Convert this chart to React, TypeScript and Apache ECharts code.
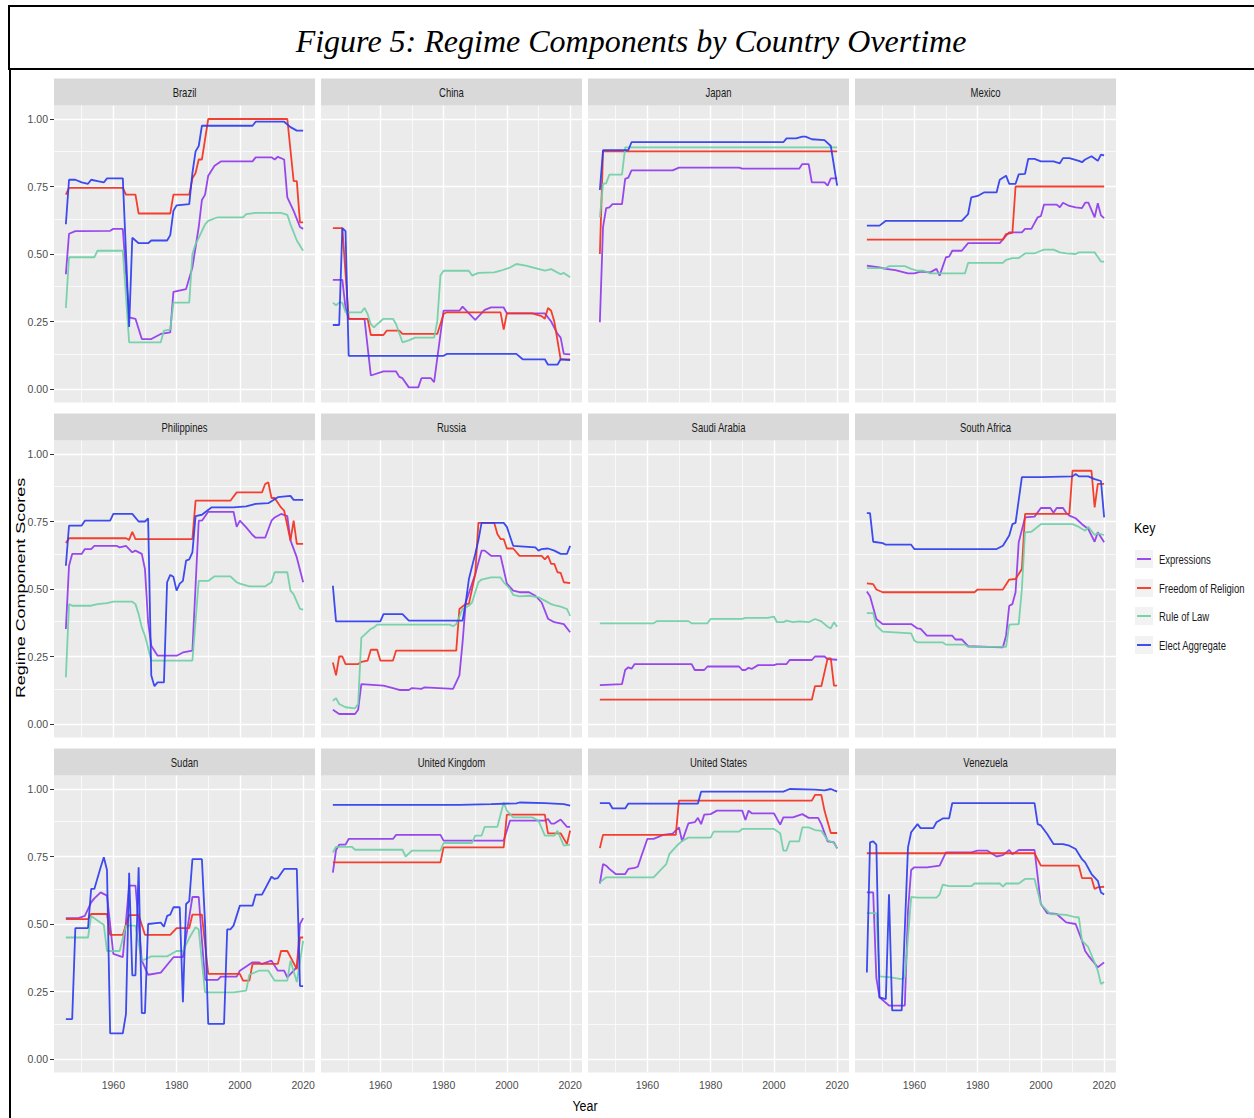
import React, { useEffect, useRef } from "react";
import * as echarts from "echarts";

const countries = ["Brazil", "China", "Japan", "Mexico", "Philippines", "Russia", "Saudi Arabia", "South Africa", "Sudan", "United Kingdom", "United States", "Venezuela"];
const seriesNames = ["Expressions", "Freedom of Religion", "Rule of Law", "Elect Aggregate"];
const seriesColors = ["#9038EC", "#F4301E", "#6FCFA5", "#2C3CEE"];
const xTicks = [1960, 1980, 2000, 2020];
const xMinor = [1950, 1970, 1990, 2010];
const yTicks = [0, 0.25, 0.5, 0.75, 1];
const yMinor = [0.125, 0.375, 0.625, 0.875];

// Brazil
const brazilExpressions = [[1945,0.425],[1946,0.575],[1948,0.585],[1959,0.586],[1960,0.593],[1963,0.593],[1965,0.265],[1967,0.26],[1969,0.185],[1972,0.185],[1975,0.204],[1978,0.21],[1979,0.36],[1983,0.37],[1985,0.45],[1987,0.6],[1988,0.7],[1989,0.72],[1990,0.79],[1992,0.827],[1994,0.843],[2004,0.843],[2005,0.858],[2010,0.858],[2011,0.85],[2012,0.86],[2014,0.85],[2015,0.71],[2017,0.66],[2019,0.6],[2020,0.593]];
const brazilReligion = [[1945,0.72],[1946,0.745],[1963,0.745],[1964,0.72],[1967,0.72],[1968,0.65],[1978,0.65],[1979,0.72],[1984,0.72],[1985,0.78],[1986,0.8],[1987,0.85],[1988,0.85],[1990,1.0],[2015,1.0],[2017,0.77],[2018,0.77],[2019,0.617],[2020,0.617]];
const brazilLaw = [[1945,0.30],[1946,0.488],[1954,0.488],[1955,0.512],[1963,0.512],[1965,0.173],[1975,0.173],[1976,0.216],[1978,0.22],[1979,0.32],[1984,0.32],[1985,0.5],[1986,0.537],[1987,0.56],[1989,0.61],[1990,0.623],[1993,0.636],[2001,0.636],[2002,0.648],[2005,0.652],[2013,0.652],[2015,0.645],[2016,0.61],[2018,0.55],[2020,0.512]];
const brazilElect = [[1945,0.61],[1946,0.775],[1948,0.775],[1950,0.765],[1952,0.76],[1953,0.775],[1955,0.77],[1957,0.765],[1958,0.78],[1963,0.78],[1965,0.23],[1966,0.56],[1968,0.54],[1971,0.54],[1972,0.55],[1977,0.55],[1978,0.57],[1979,0.66],[1980,0.68],[1984,0.685],[1985,0.8],[1986,0.88],[1987,0.9],[1988,0.975],[2004,0.975],[2005,0.99],[2014,0.99],[2016,0.97],[2018,0.957],[2020,0.957]];

// China
const chinaExpressions = [[1945,0.404],[1948,0.404],[1949,0.30],[1950,0.26],[1955,0.26],[1957,0.05],[1961,0.065],[1965,0.065],[1966,0.045],[1967,0.04],[1969,0.006],[1972,0.006],[1973,0.04],[1976,0.04],[1977,0.025],[1980,0.29],[1985,0.29],[1986,0.305],[1988,0.28],[1990,0.256],[1993,0.293],[1995,0.302],[1999,0.302],[2000,0.28],[2012,0.28],[2014,0.25],[2016,0.204],[2017,0.19],[2018,0.13],[2020,0.128]];
const chinaReligion = [[1945,0.596],[1948,0.596],[1950,0.26],[1956,0.26],[1957,0.20],[1961,0.20],[1962,0.216],[1966,0.216],[1967,0.204],[1978,0.204],[1980,0.278],[1981,0.284],[1998,0.284],[1999,0.22],[2000,0.28],[2008,0.28],[2011,0.27],[2012,0.26],[2013,0.30],[2014,0.29],[2015,0.25],[2017,0.11],[2020,0.11]];
const chinaLaw = [[1945,0.32],[1946,0.31],[1947,0.32],[1948,0.32],[1949,0.284],[1954,0.284],[1955,0.30],[1956,0.277],[1957,0.24],[1958,0.228],[1959,0.24],[1961,0.26],[1964,0.26],[1965,0.24],[1967,0.173],[1969,0.18],[1971,0.19],[1977,0.19],[1978,0.25],[1979,0.42],[1980,0.438],[1988,0.438],[1989,0.42],[1991,0.43],[1996,0.432],[1998,0.438],[2001,0.45],[2003,0.463],[2006,0.457],[2009,0.448],[2012,0.438],[2014,0.444],[2017,0.425],[2018,0.43],[2020,0.414]];
const chinaElect = [[1945,0.237],[1947,0.237],[1948,0.596],[1949,0.585],[1950,0.123],[1980,0.123],[1981,0.13],[2003,0.13],[2005,0.11],[2012,0.11],[2013,0.09],[2016,0.09],[2017,0.11],[2020,0.107]];

// Japan
const japanExpressions = [[1945,0.247],[1946,0.6],[1947,0.67],[1948,0.673],[1949,0.685],[1952,0.685],[1953,0.778],[1954,0.783],[1955,0.81],[1968,0.81],[1970,0.82],[1989,0.82],[1990,0.816],[2008,0.816],[2009,0.833],[2011,0.833],[2012,0.765],[2016,0.765],[2017,0.753],[2018,0.78],[2020,0.78]];
const japanReligion = [[1945,0.50],[1946,0.88],[2020,0.88]];
const japanLaw = [[1945,0.636],[1946,0.76],[1947,0.762],[1948,0.794],[1952,0.794],[1953,0.895],[2020,0.895]];
const japanElect = [[1945,0.737],[1946,0.885],[1954,0.885],[1955,0.914],[2003,0.914],[2004,0.928],[2007,0.928],[2009,0.935],[2010,0.935],[2012,0.925],[2016,0.922],[2018,0.90],[2020,0.753]];

// Mexico
const mexicoExpressions = [[1945,0.457],[1949,0.45],[1951,0.445],[1954,0.44],[1958,0.428],[1960,0.428],[1962,0.435],[1965,0.432],[1967,0.445],[1968,0.42],[1970,0.488],[1971,0.49],[1972,0.512],[1975,0.512],[1977,0.54],[1987,0.54],[1989,0.568],[1990,0.58],[1994,0.58],[1995,0.593],[1997,0.593],[1999,0.636],[2000,0.64],[2001,0.683],[2005,0.683],[2006,0.673],[2007,0.69],[2009,0.678],[2011,0.673],[2013,0.67],[2014,0.69],[2015,0.69],[2017,0.636],[2018,0.688],[2019,0.643],[2020,0.633]];
const mexicoReligion = [[1945,0.553],[1988,0.553],[1989,0.574],[1991,0.578],[1992,0.75],[2020,0.75]];
const mexicoLaw = [[1945,0.448],[1951,0.448],[1952,0.455],[1957,0.455],[1959,0.445],[1961,0.438],[1963,0.438],[1965,0.428],[1976,0.428],[1977,0.467],[1988,0.467],[1989,0.478],[1991,0.485],[1993,0.485],[1995,0.502],[1998,0.502],[2000,0.512],[2001,0.516],[2004,0.516],[2006,0.506],[2008,0.502],[2011,0.5],[2012,0.506],[2017,0.506],[2019,0.472],[2020,0.472]];
const mexicoElect = [[1945,0.605],[1949,0.605],[1951,0.623],[1975,0.623],[1977,0.648],[1978,0.71],[1980,0.715],[1982,0.728],[1986,0.728],[1987,0.775],[1989,0.79],[1990,0.76],[1992,0.76],[1993,0.795],[1995,0.797],[1996,0.852],[1998,0.852],[2000,0.843],[2004,0.843],[2006,0.836],[2007,0.855],[2009,0.855],[2012,0.845],[2013,0.84],[2014,0.85],[2016,0.862],[2018,0.845],[2019,0.868],[2020,0.865]];

// Philippines
const philippinesExpressions = [[1945,0.352],[1946,0.586],[1947,0.63],[1950,0.63],[1951,0.648],[1953,0.648],[1954,0.66],[1961,0.66],[1962,0.654],[1964,0.66],[1966,0.636],[1967,0.642],[1969,0.63],[1970,0.574],[1971,0.377],[1972,0.29],[1974,0.253],[1980,0.253],[1982,0.265],[1985,0.272],[1987,0.753],[1988,0.753],[1990,0.786],[1998,0.786],[1999,0.73],[2000,0.753],[2002,0.728],[2004,0.70],[2005,0.69],[2008,0.69],[2010,0.753],[2011,0.765],[2013,0.778],[2015,0.77],[2016,0.68],[2018,0.617],[2020,0.525]];
const philippinesReligion = [[1945,0.67],[1946,0.688],[1964,0.688],[1965,0.682],[1966,0.712],[1967,0.685],[1985,0.685],[1986,0.827],[1997,0.827],[1999,0.858],[2007,0.858],[2008,0.889],[2009,0.895],[2010,0.837],[2011,0.837],[2013,0.802],[2014,0.79],[2016,0.68],[2017,0.753],[2018,0.667],[2020,0.667]];
const philippinesLaw = [[1945,0.173],[1946,0.444],[1947,0.438],[1953,0.438],[1955,0.444],[1958,0.448],[1960,0.453],[1966,0.453],[1967,0.444],[1968,0.407],[1969,0.358],[1970,0.327],[1972,0.235],[1985,0.235],[1987,0.53],[1990,0.53],[1992,0.547],[1997,0.547],[1999,0.525],[2000,0.52],[2003,0.51],[2008,0.51],[2010,0.525],[2011,0.562],[2015,0.562],[2016,0.494],[2017,0.48],[2019,0.426],[2020,0.424]];
const philippinesElect = [[1945,0.586],[1946,0.735],[1950,0.735],[1951,0.753],[1959,0.753],[1960,0.778],[1966,0.778],[1968,0.75],[1970,0.75],[1971,0.762],[1972,0.18],[1973,0.14],[1974,0.154],[1976,0.154],[1977,0.525],[1978,0.552],[1979,0.545],[1980,0.494],[1981,0.52],[1982,0.53],[1983,0.605],[1984,0.61],[1985,0.636],[1986,0.77],[1988,0.775],[1991,0.802],[1998,0.802],[2002,0.806],[2005,0.815],[2009,0.818],[2012,0.84],[2016,0.845],[2017,0.83],[2020,0.83]];

// Russia
const russiaExpressions = [[1945,0.053],[1947,0.037],[1952,0.037],[1953,0.053],[1954,0.148],[1961,0.142],[1964,0.133],[1966,0.126],[1969,0.126],[1970,0.133],[1973,0.13],[1974,0.136],[1983,0.13],[1985,0.18],[1986,0.302],[1987,0.45],[1990,0.555],[1992,0.642],[1993,0.642],[1995,0.623],[1998,0.623],[2000,0.52],[2002,0.494],[2004,0.488],[2007,0.488],[2009,0.475],[2011,0.45],[2013,0.39],[2015,0.377],[2018,0.37],[2020,0.34]];
const russiaReligion = [[1945,0.228],[1946,0.18],[1947,0.25],[1948,0.25],[1949,0.222],[1953,0.222],[1954,0.23],[1956,0.235],[1957,0.275],[1959,0.275],[1960,0.235],[1964,0.235],[1965,0.272],[1984,0.272],[1985,0.426],[1987,0.445],[1988,0.445],[1989,0.5],[1990,0.555],[1991,0.745],[1996,0.745],[1997,0.704],[1998,0.685],[1999,0.685],[2000,0.65],[2002,0.65],[2004,0.623],[2011,0.623],[2012,0.61],[2013,0.623],[2014,0.593],[2015,0.593],[2016,0.562],[2017,0.56],[2018,0.525],[2020,0.522]];
const russiaLaw = [[1945,0.086],[1946,0.096],[1947,0.074],[1949,0.062],[1952,0.058],[1953,0.074],[1954,0.32],[1955,0.33],[1957,0.352],[1958,0.358],[1959,0.368],[1982,0.368],[1983,0.362],[1984,0.37],[1986,0.426],[1988,0.438],[1989,0.45],[1990,0.488],[1991,0.525],[1992,0.535],[1995,0.543],[1998,0.543],[1999,0.525],[2001,0.5],[2002,0.478],[2004,0.473],[2007,0.475],[2010,0.469],[2012,0.457],[2014,0.444],[2015,0.44],[2017,0.435],[2019,0.426],[2020,0.4]];
const russiaElect = [[1945,0.512],[1946,0.38],[1960,0.38],[1961,0.407],[1967,0.407],[1969,0.383],[1986,0.383],[1987,0.45],[1988,0.537],[1990,0.63],[1991,0.68],[1992,0.745],[1999,0.745],[2000,0.73],[2002,0.66],[2009,0.654],[2010,0.642],[2011,0.648],[2013,0.65],[2015,0.642],[2017,0.63],[2019,0.63],[2020,0.66]];

// Saudi Arabia
const saudiExpressions = [[1945,0.144],[1952,0.148],[1953,0.20],[1954,0.21],[1955,0.205],[1956,0.222],[1974,0.222],[1975,0.20],[1978,0.20],[1979,0.213],[1989,0.213],[1990,0.2],[1991,0.2],[1992,0.208],[1993,0.204],[1995,0.218],[2000,0.218],[2001,0.222],[2004,0.222],[2005,0.237],[2012,0.237],[2013,0.25],[2016,0.25],[2017,0.24],[2020,0.238]];
const saudiReligion = [[1945,0.09],[2012,0.09],[2013,0.14],[2015,0.14],[2017,0.243],[2018,0.243],[2019,0.142],[2020,0.142]];
const saudiLaw = [[1945,0.373],[1962,0.373],[1963,0.381],[1973,0.381],[1974,0.373],[1979,0.373],[1980,0.389],[1990,0.389],[1991,0.393],[1998,0.393],[2000,0.398],[2001,0.377],[2003,0.377],[2004,0.383],[2006,0.377],[2008,0.38],[2011,0.377],[2013,0.389],[2015,0.38],[2017,0.36],[2018,0.354],[2019,0.377],[2020,0.36]];
const saudiElect: number[][] = [];

// South Africa
const southAfricaExpressions = [[1945,0.491],[1946,0.473],[1948,0.389],[1950,0.37],[1959,0.37],[1961,0.354],[1962,0.352],[1964,0.327],[1972,0.327],[1973,0.313],[1975,0.313],[1977,0.288],[1988,0.284],[1989,0.327],[1990,0.438],[1991,0.444],[1992,0.488],[1993,0.673],[1995,0.765],[1998,0.768],[2000,0.8],[2003,0.8],[2004,0.782],[2005,0.8],[2007,0.8],[2008,0.782],[2009,0.772],[2011,0.762],[2013,0.74],[2015,0.722],[2017,0.675],[2018,0.71],[2020,0.673]];
const southAfricaReligion = [[1945,0.521],[1947,0.518],[1948,0.498],[1950,0.488],[1979,0.488],[1980,0.498],[1988,0.498],[1990,0.535],[1992,0.537],[1994,0.574],[1995,0.778],[2009,0.778],[2010,0.938],[2016,0.938],[2017,0.802],[2018,0.889],[2020,0.889]];
const southAfricaLaw = [[1945,0.411],[1947,0.411],[1948,0.364],[1950,0.342],[1959,0.336],[1960,0.309],[1961,0.302],[1969,0.302],[1970,0.294],[1976,0.294],[1977,0.286],[1989,0.286],[1990,0.368],[1993,0.37],[1994,0.5],[1995,0.71],[1997,0.712],[2000,0.74],[2010,0.74],[2012,0.73],[2014,0.716],[2015,0.73],[2017,0.70],[2018,0.706],[2020,0.70]];
const southAfricaElect = [[1945,0.781],[1946,0.781],[1947,0.675],[1950,0.67],[1951,0.664],[1959,0.664],[1960,0.648],[1986,0.648],[1988,0.66],[1990,0.698],[1991,0.74],[1992,0.745],[1994,0.914],[2000,0.914],[2010,0.917],[2011,0.926],[2012,0.917],[2015,0.917],[2017,0.907],[2019,0.90],[2020,0.765]];

// Sudan
const sudanExpressions = [[1945,0.522],[1949,0.522],[1951,0.53],[1953,0.58],[1954,0.595],[1956,0.617],[1958,0.605],[1960,0.389],[1963,0.377],[1965,0.642],[1967,0.642],[1969,0.364],[1971,0.312],[1975,0.32],[1979,0.377],[1982,0.377],[1985,0.6],[1987,0.6],[1988,0.44],[1989,0.293],[1993,0.293],[1994,0.305],[1999,0.305],[2000,0.327],[2004,0.358],[2006,0.358],[2007,0.352],[2010,0.364],[2012,0.327],[2014,0.327],[2015,0.302],[2017,0.327],[2018,0.34],[2019,0.5],[2020,0.522]];
const sudanReligion = [[1945,0.518],[1952,0.518],[1953,0.537],[1958,0.537],[1959,0.46],[1963,0.46],[1965,0.533],[1968,0.533],[1970,0.46],[1978,0.46],[1980,0.485],[1984,0.485],[1985,0.535],[1988,0.535],[1990,0.315],[2000,0.315],[2001,0.29],[2003,0.29],[2004,0.352],[2012,0.352],[2013,0.4],[2015,0.4],[2018,0.333],[2019,0.45],[2020,0.45]];
const sudanLaw = [[1945,0.45],[1952,0.45],[1953,0.53],[1956,0.505],[1957,0.497],[1958,0.4],[1962,0.4],[1964,0.494],[1967,0.494],[1969,0.364],[1972,0.38],[1977,0.38],[1980,0.4],[1982,0.4],[1984,0.448],[1986,0.488],[1987,0.48],[1988,0.36],[1989,0.247],[1998,0.247],[2002,0.253],[2003,0.312],[2006,0.327],[2009,0.327],[2011,0.29],[2015,0.29],[2016,0.364],[2018,0.285],[2020,0.438]];
const sudanElect = [[1945,0.148],[1947,0.148],[1948,0.485],[1952,0.485],[1953,0.63],[1954,0.63],[1956,0.71],[1957,0.747],[1958,0.7],[1959,0.095],[1963,0.095],[1964,0.167],[1965,0.69],[1966,0.31],[1967,0.31],[1968,0.71],[1969,0.17],[1970,0.17],[1971,0.5],[1975,0.505],[1976,0.49],[1977,0.53],[1978,0.535],[1979,0.562],[1981,0.562],[1982,0.21],[1983,0.574],[1984,0.585],[1985,0.74],[1988,0.74],[1989,0.5],[1990,0.13],[1995,0.13],[1996,0.48],[1997,0.48],[1998,0.494],[2000,0.568],[2004,0.568],[2005,0.609],[2007,0.609],[2010,0.675],[2011,0.667],[2012,0.67],[2014,0.704],[2018,0.704],[2019,0.27],[2020,0.27]];

// United Kingdom
const ukExpressions = [[1945,0.69],[1946,0.774],[1947,0.794],[1949,0.794],[1950,0.815],[1964,0.815],[1965,0.83],[1979,0.83],[1980,0.809],[1999,0.809],[2001,0.883],[2012,0.883],[2013,0.889],[2014,0.872],[2015,0.872],[2017,0.887],[2019,0.86],[2020,0.86]];
const ukReligion = [[1945,0.728],[1979,0.728],[1980,0.784],[1999,0.784],[2000,0.905],[2012,0.905],[2013,0.836],[2017,0.836],[2019,0.796],[2020,0.846]];
const ukLaw = [[1945,0.765],[1946,0.786],[1951,0.786],[1952,0.775],[1967,0.775],[1968,0.75],[1970,0.772],[1979,0.772],[1980,0.8],[1989,0.8],[1990,0.827],[1992,0.827],[1993,0.86],[1997,0.86],[1999,0.95],[2000,0.92],[2002,0.895],[2008,0.895],[2010,0.883],[2012,0.827],[2015,0.827],[2016,0.845],[2018,0.79],[2020,0.794]];
const ukElect = [[1945,0.941],[1985,0.941],[1995,0.944],[2003,0.947],[2004,0.95],[2012,0.948],[2018,0.944],[2020,0.938]];

// United States
const usExpressions = [[1945,0.65],[1946,0.722],[1947,0.716],[1948,0.704],[1950,0.685],[1953,0.685],[1954,0.704],[1956,0.708],[1957,0.712],[1958,0.747],[1960,0.815],[1962,0.815],[1965,0.83],[1968,0.835],[1970,0.858],[1971,0.806],[1973,0.873],[1975,0.877],[1976,0.893],[1977,0.87],[1978,0.905],[1980,0.907],[1982,0.92],[1990,0.92],[1991,0.885],[1992,0.92],[1993,0.91],[2000,0.91],[2002,0.868],[2003,0.895],[2006,0.895],[2009,0.907],[2011,0.893],[2014,0.893],[2015,0.87],[2017,0.806],[2019,0.802],[2020,0.78]];
const usReligion = [[1945,0.781],[1946,0.83],[1969,0.83],[1970,0.957],[2012,0.957],[2013,0.978],[2015,0.978],[2016,0.92],[2018,0.837],[2020,0.837]];
const usLaw = [[1945,0.654],[1947,0.673],[1962,0.673],[1964,0.698],[1966,0.722],[1967,0.76],[1969,0.786],[1971,0.808],[1973,0.82],[1980,0.82],[1981,0.842],[1989,0.842],[1990,0.852],[2000,0.852],[2002,0.836],[2003,0.772],[2004,0.772],[2005,0.806],[2008,0.806],[2009,0.858],[2011,0.858],[2013,0.848],[2015,0.845],[2017,0.81],[2019,0.8],[2020,0.78]];
const usElect = [[1945,0.948],[1948,0.948],[1949,0.928],[1953,0.928],[1954,0.946],[1976,0.946],[1977,0.99],[2003,0.99],[2005,1.0],[2013,0.998],[2016,0.995],[2018,1.0],[2020,0.99]];

// Venezuela
const venezuelaExpressions = [[1945,0.617],[1947,0.617],[1948,0.3],[1949,0.228],[1952,0.198],[1957,0.198],[1958,0.55],[1959,0.7],[1960,0.71],[1964,0.71],[1968,0.716],[1970,0.765],[1978,0.765],[1980,0.772],[1983,0.772],[1986,0.75],[1988,0.755],[1990,0.774],[1991,0.758],[1993,0.774],[1998,0.774],[2000,0.574],[2002,0.54],[2005,0.537],[2008,0.506],[2011,0.5],[2013,0.438],[2014,0.4],[2015,0.383],[2018,0.34],[2020,0.358]];
const venezuelaReligion = [[1945,0.762],[1998,0.762],[2000,0.716],[2012,0.716],[2013,0.67],[2016,0.67],[2017,0.63],[2018,0.636],[2020,0.638]];
const venezuelaLaw = [[1945,0.54],[1948,0.54],[1949,0.306],[1952,0.303],[1956,0.296],[1957,0.303],[1959,0.6],[1961,0.598],[1967,0.598],[1968,0.61],[1969,0.646],[1971,0.64],[1978,0.64],[1979,0.65],[1987,0.65],[1988,0.638],[1989,0.65],[1993,0.65],[1995,0.667],[1998,0.667],[2000,0.574],[2003,0.537],[2008,0.534],[2011,0.525],[2012,0.525],[2013,0.438],[2015,0.414],[2018,0.327],[2019,0.278],[2020,0.285]];
const venezuelaElect = [[1945,0.32],[1946,0.802],[1947,0.806],[1948,0.794],[1949,0.228],[1951,0.222],[1952,0.61],[1953,0.18],[1956,0.18],[1958,0.784],[1959,0.84],[1961,0.87],[1962,0.855],[1966,0.855],[1967,0.877],[1969,0.891],[1971,0.891],[1972,0.948],[1998,0.948],[1999,0.87],[2000,0.865],[2002,0.833],[2004,0.796],[2007,0.796],[2009,0.79],[2011,0.778],[2013,0.74],[2014,0.728],[2016,0.685],[2018,0.66],[2019,0.617],[2020,0.609]];

const countrySeries = [
  [brazilExpressions, brazilReligion, brazilLaw, brazilElect],
  [chinaExpressions, chinaReligion, chinaLaw, chinaElect],
  [japanExpressions, japanReligion, japanLaw, japanElect],
  [mexicoExpressions, mexicoReligion, mexicoLaw, mexicoElect],
  [philippinesExpressions, philippinesReligion, philippinesLaw, philippinesElect],
  [russiaExpressions, russiaReligion, russiaLaw, russiaElect],
  [saudiExpressions, saudiReligion, saudiLaw, saudiElect],
  [southAfricaExpressions, southAfricaReligion, southAfricaLaw, southAfricaElect],
  [sudanExpressions, sudanReligion, sudanLaw, sudanElect],
  [ukExpressions, ukReligion, ukLaw, ukElect],
  [usExpressions, usReligion, usLaw, usElect],
  [venezuelaExpressions, venezuelaReligion, venezuelaLaw, venezuelaElect],
];

const W = 1254;
const H = 1118;
const colLeft = [54, 321, 588, 855];
const rowTop = [105.5, 440.5, 775.5];
const panelW = 261;
const panelH = 297;
const stripH = 27;
const sans = "'Liberation Sans', Arial, sans-serif";
const narrowScale = 0.76;

function buildOption() {
  const grid: any[] = [];
  const xAxis: any[] = [];
  const yAxis: any[] = [];
  const series: any[] = [];
  const graphic: any[] = [];

  graphic.push({ type: "rect", z: 100, shape: { x: 9, y: 6, width: 1250, height: 63 }, style: { fill: "#fff", stroke: "#000", lineWidth: 2 } });
  graphic.push({ type: "text", z: 101, x: 631, y: 41, style: { text: "Figure 5: Regime Components by Country Overtime", fontFamily: "'Liberation Serif', serif", fontStyle: "italic", fontSize: 32, fill: "#000", align: "center", verticalAlign: "middle" } });
  graphic.push({ type: "line", z: 100, shape: { x1: 10, y1: 69, x2: 10, y2: H }, style: { stroke: "#000", lineWidth: 2 } });

  countries.forEach((name, i) => {
    const r = Math.floor(i / 4);
    const c = i % 4;
    const isBottom = r === 2;
    const isLeft = c === 0;
    grid.push({ left: colLeft[c], top: rowTop[r], width: panelW, height: panelH, show: true, backgroundColor: "#EBEBEB", borderWidth: 0 });
    xAxis.push({
      type: "value", gridIndex: i, min: 1941.25, max: 2023.75,
      axisLine: { show: false }, splitLine: { show: false },
      axisTick: { show: isBottom, customValues: xTicks, length: 4, lineStyle: { color: "#333333", width: 1 } },
      axisLabel: { show: isBottom, customValues: xTicks, color: "#4D4D4D", fontSize: 10.5, margin: 7, fontFamily: sans, formatter: (v: number) => String(v) },
    });
    yAxis.push({
      type: "value", gridIndex: i, min: -0.05, max: 1.05,
      axisLine: { show: false }, splitLine: { show: false },
      axisTick: { show: isLeft, customValues: yTicks, length: 4, lineStyle: { color: "#333333", width: 1 } },
      axisLabel: { show: isLeft, customValues: yTicks, color: "#4D4D4D", fontSize: 10.5, margin: 6, fontFamily: sans, formatter: (v: number) => v.toFixed(2) },
    });
    const ml: any[] = [];
    xTicks.forEach((v) => ml.push({ xAxis: v, lineStyle: { width: 1.4 } }));
    xMinor.forEach((v) => ml.push({ xAxis: v, lineStyle: { width: 0.7 } }));
    yTicks.forEach((v) => ml.push({ yAxis: v, lineStyle: { width: 1.4 } }));
    yMinor.forEach((v) => ml.push({ yAxis: v, lineStyle: { width: 0.7 } }));
    series.push({
      type: "line", xAxisIndex: i, yAxisIndex: i, data: [], silent: true, z: 1,
      markLine: { silent: true, z: 1, symbol: ["none", "none"], label: { show: false }, animation: false, lineStyle: { color: "#FFFFFF", type: "solid" }, emphasis: { disabled: true }, data: ml },
    });
    countrySeries[i].forEach((d, k) => {
      series.push({
        name: seriesNames[k], type: "line", xAxisIndex: i, yAxisIndex: i, data: d,
        showSymbol: false, symbol: "none", z: 10 + k, silent: true,
        lineStyle: { color: seriesColors[k], width: 1.8, opacity: 0.92 }, itemStyle: { color: seriesColors[k] },
      });
    });
    graphic.push({ type: "rect", shape: { x: colLeft[c], y: rowTop[r] - stripH, width: panelW, height: stripH }, style: { fill: "#D9D9D9" } });
    graphic.push({ type: "text", x: colLeft[c] + panelW / 2, y: rowTop[r] - stripH / 2, scaleX: narrowScale, style: { text: name, fontFamily: sans, fontSize: 12.5, fill: "#1A1A1A", align: "center", verticalAlign: "middle" } });
  });

  graphic.push({ type: "text", x: 585, y: 1105, scaleX: 0.8, style: { text: "Year", fontFamily: sans, fontSize: 15.5, fill: "#000", align: "center", verticalAlign: "middle" } });
  graphic.push({ type: "text", x: 20.5, y: 588, rotation: Math.PI / 2, scaleX: 1.38, style: { text: "Regime Component Scores", fontFamily: sans, fontSize: 13, fill: "#000", align: "center", verticalAlign: "middle" } });

  graphic.push({ type: "text", x: 1134, y: 527, scaleX: 0.8, style: { text: "Key", fontFamily: sans, fontSize: 15.5, fill: "#000", align: "left", verticalAlign: "middle" } });
  const legendY = [559, 588, 616, 645];
  seriesNames.forEach((n, k) => {
    graphic.push({ type: "rect", shape: { x: 1135, y: legendY[k] - 9, width: 18, height: 18 }, style: { fill: "#F2F2F2" } });
    graphic.push({ type: "line", shape: { x1: 1137, y1: legendY[k], x2: 1151, y2: legendY[k] }, style: { stroke: seriesColors[k], lineWidth: 1.8 } });
    graphic.push({ type: "text", x: 1159, y: legendY[k], scaleX: narrowScale, style: { text: n, fontFamily: sans, fontSize: 12.5, fill: "#1A1A1A", align: "left", verticalAlign: "middle" } });
  });

  return { animation: false, backgroundColor: "#FFFFFF", grid, xAxis, yAxis, series, graphic, legend: { show: false }, tooltip: { show: false } };
}

export default function App() {
  const ref = useRef<HTMLDivElement>(null);
  useEffect(() => {
    if (!ref.current) return;
    const chart = echarts.init(ref.current, undefined, { renderer: "svg" });
    chart.setOption(buildOption() as any);
    return () => chart.dispose();
  }, []);
  return <div ref={ref} style={{ position: "absolute", left: 0, top: 0, width: W, height: H }} />;
}
